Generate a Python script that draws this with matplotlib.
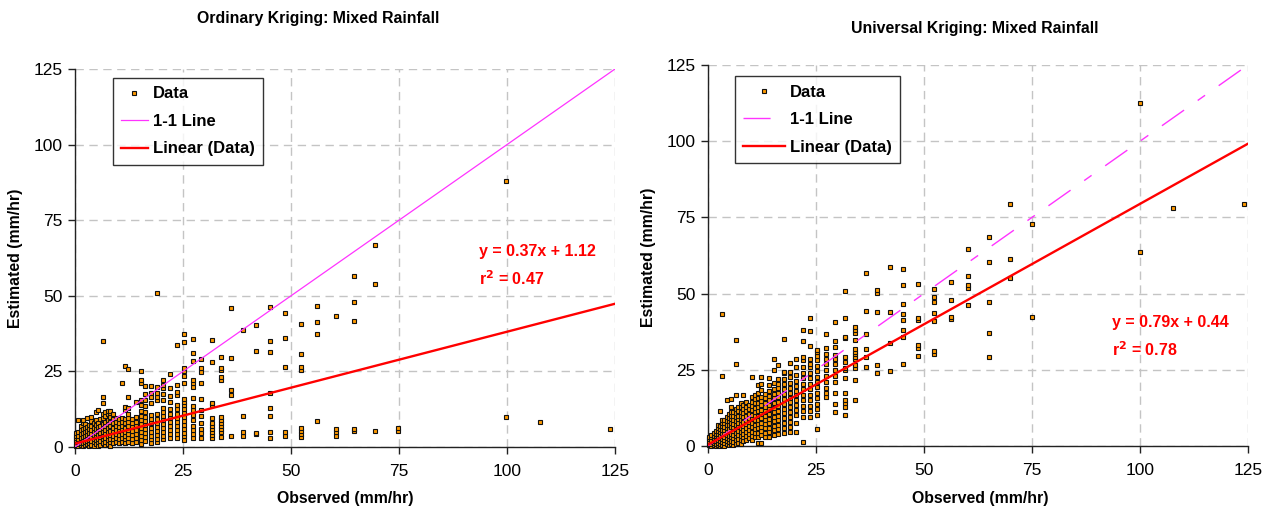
import matplotlib
matplotlib.use('Agg')
import matplotlib.pyplot as plt

plt.rcParams['font.family'] = ['Liberation Sans', 'DejaVu Sans']

# Ordinary kriging: observed column values and estimated values in each column
ok_obs = [0.3, 0.8, 1.3, 1.8, 2.3, 2.8, 3.3, 3.8, 4.3, 4.8, 5.3, 5.8, 6.4, 7.0, 7.6,
          8.2, 8.9, 9.5, 10.2, 10.9, 11.5, 12.3, 13.2, 14.1, 15.2, 16.3, 17.6, 18.9,
          20.3, 21.9, 23.5, 25.3, 27.4, 29.2, 31.6, 33.9, 36.2, 39.0, 42.0, 45.1,
          48.5, 52.2, 56.0, 60.4, 64.6, 69.5, 74.8, 99.8, 107.6, 123.9]
ok_est = [
    [0.3, 0.8, 1.5, 2.2, 3.0, 3.8, 4.5],
    [0.2, 1.0, 1.8, 2.6, 3.5, 5.0, 8.9],
    [0.5, 1.2, 2.0, 3.0, 4.2, 5.5, 7.0],
    [0.3, 1.4, 2.4, 3.4, 4.6, 6.0, 8.0, 8.9],
    [0.6, 1.5, 2.5, 3.6, 4.8, 6.2, 7.5],
    [1.0, 2.0, 3.0, 4.0, 5.2, 6.5, 9.5],
    [0.2, 1.2, 2.4, 3.5, 4.6, 5.8, 7.2],
    [0.8, 2.0, 3.2, 4.4, 5.6, 7.0, 8.5, 10.0],
    [0.4, 1.6, 2.8, 4.0, 5.2, 6.4, 7.8],
    [1.0, 2.2, 3.4, 4.6, 5.8, 7.2, 9.0, 11.7],
    [0.3, 1.5, 2.8, 4.0, 5.3, 6.6, 8.0, 12.2],
    [0.8, 2.0, 3.2, 4.5, 5.8, 7.0, 9.2],
    [1.2, 2.5, 3.8, 5.0, 6.3, 7.6, 9.5, 11.0, 14.6, 16.4, 35.2],
    [0.6, 1.8, 3.0, 4.3, 5.6, 7.0, 8.4, 10.4, 11.5],
    [1.0, 2.3, 3.6, 4.9, 6.2, 7.5, 9.0, 10.8, 12.0],
    [0.2, 1.5, 2.8, 4.1, 5.4, 6.8, 8.2, 9.8, 11.2, 12.0],
    [1.2, 2.5, 3.8, 5.1, 6.4, 7.8, 9.3, 11.0],
    [1.6, 2.9, 4.2, 5.5, 6.8, 8.2, 9.6],
    [1.3, 2.6, 3.9, 5.2, 6.5, 7.9, 9.4],
    [1.8, 3.1, 4.4, 5.7, 7.0, 8.4, 9.5, 21.3],
    [1.2, 2.5, 3.8, 5.1, 6.4, 7.8, 9.2, 12.3, 13.2, 26.9],
    [1.6, 2.9, 4.2, 5.5, 6.8, 8.2, 9.6, 11.0, 13.0, 16.4, 25.9],
    [1.3, 2.6, 3.9, 5.2, 6.5, 7.9, 9.3],
    [1.8, 3.1, 4.4, 5.7, 7.0, 8.4, 10.0, 15.0],
    [1.0, 2.3, 3.6, 4.9, 6.2, 7.5, 8.9, 10.3, 12.0, 14.0, 15.6, 21.0, 22.2, 25.2],
    [2.0, 3.3, 4.6, 5.9, 7.2, 8.6, 10.0, 11.5, 13.5, 15.5, 17.5, 20.3],
    [1.2, 2.5, 3.8, 5.1, 6.4, 7.8, 9.2, 10.6, 14.5, 16.5, 18.0, 20.3],
    [1.5, 2.8, 4.1, 5.4, 6.7, 8.0, 9.4, 11.0, 15.5, 16.5, 18.0, 20.0, 51.0],
    [2.5, 3.8, 5.1, 6.4, 7.7, 9.0, 10.3, 11.6, 13.0, 15.5, 17.5, 19.5, 20.5, 22.2],
    [3.0, 4.3, 5.6, 6.9, 8.2, 9.5, 11.0, 12.5, 15.0, 16.9, 19.4, 24.1],
    [3.0, 4.3, 5.6, 6.9, 8.2, 9.5, 10.8, 12.5, 14.0, 17.2, 18.3, 20.5, 33.7],
    [2.3, 3.5, 4.7, 6.0, 7.3, 8.6, 9.9, 11.2, 12.5, 13.8, 15.0, 16.0, 21.0, 23.4,
     25.0, 26.0, 34.8, 37.3],
    [3.0, 4.2, 5.5, 7.0, 9.0, 10.5, 12.3, 13.4, 16.1, 20.0, 21.0, 22.0, 28.4, 31.0, 35.8],
    [3.0, 4.5, 6.0, 7.8, 10.1, 12.3, 16.0, 21.0, 24.9, 26.0, 29.0],
    [3.0, 4.0, 5.0, 6.0, 7.0, 8.0, 9.5, 14.0, 14.5, 28.0, 35.4],
    [3.4, 5.0, 6.0, 7.0, 8.0, 9.0, 10.0, 22.2, 23.3, 25.5, 26.0, 29.6],
    [3.7, 17.2, 18.8, 29.3, 46.1],
    [3.6, 5.0, 10.4, 38.7],
    [4.2, 4.6, 31.8, 40.3],
    [3.1, 5.0, 10.4, 12.8, 17.8, 31.4, 35.1, 46.4],
    [3.5, 4.8, 26.3, 36.2, 44.3],
    [3.2, 4.2, 5.3, 6.3, 25.3, 26.6, 30.6, 40.8],
    [8.6, 37.3, 41.2, 46.5],
    [3.8, 4.8, 5.8, 43.3],
    [5.2, 6.0, 41.8, 47.9, 56.7],
    [5.3, 54.0, 66.9],
    [5.4, 6.3],
    [9.8, 88.0],
    [8.4],
    [6.1],
]

# Universal kriging
uk_obs = [0.3, 0.8, 1.3, 1.8, 2.3, 2.8, 3.3, 3.8, 4.3, 4.8, 5.3, 5.8, 6.4, 7.0, 7.6,
          8.2, 8.9, 9.5, 10.2, 10.9, 11.5, 12.3, 13.2, 14.1, 15.2, 16.3, 17.6, 18.9,
          20.3, 21.9, 23.5, 25.3, 27.4, 29.3, 31.6, 34.0, 36.6, 39.1, 42.1, 45.2,
          48.7, 52.4, 56.2, 60.3, 65.0, 69.8, 75.0, 100.0, 107.6, 124.0]
uk_est = [
    [0.2, 0.8, 1.5, 2.2, 3.0],
    [0.0, 0.6, 1.3, 2.0, 2.8, 3.6],
    [0.2, 0.9, 1.7, 2.5, 3.4, 4.3],
    [0.0, 0.7, 1.5, 2.3, 3.2, 4.1, 5.0],
    [0.3, 1.1, 2.0, 2.9, 3.8, 4.8, 5.8, 6.9],
    [0.0, 0.8, 1.7, 2.6, 3.6, 4.6, 5.6, 6.7, 11.5],
    [0.4, 1.3, 2.3, 3.3, 4.3, 5.4, 6.5, 7.6, 8.5, 23.1, 43.2],
    [0.0, 1.0, 2.0, 3.0, 4.1, 5.2, 6.3, 7.4, 8.6],
    [0.5, 1.5, 2.6, 3.7, 4.8, 5.9, 7.0, 8.2, 9.4, 15.2],
    [0.2, 1.2, 2.3, 3.4, 4.5, 5.7, 6.9, 8.1, 9.3, 10.5],
    [0.6, 1.7, 2.8, 3.9, 5.1, 6.3, 7.5, 8.7, 9.9, 11.2, 12.9, 15.5],
    [0.3, 1.4, 2.5, 3.7, 4.9, 6.1, 7.3, 8.5, 9.8, 11.0],
    [0.8, 2.0, 3.2, 4.4, 5.6, 6.9, 8.2, 9.5, 10.8, 12.0, 16.7, 26.9, 34.8],
    [1.0, 2.2, 3.5, 4.8, 6.1, 7.4, 8.7, 10.0, 11.4, 12.8],
    [0.6, 1.9, 3.2, 4.5, 5.8, 7.1, 8.5, 9.9, 11.3, 12.7, 14.0],
    [1.5, 2.8, 4.1, 5.4, 6.7, 8.0, 9.4, 10.8, 12.2, 13.6, 16.7],
    [2.0, 3.3, 4.6, 5.9, 7.2, 8.6, 10.0, 11.4, 12.8, 14.5],
    [2.5, 3.8, 5.1, 6.4, 7.8, 9.2, 10.6, 12.0, 13.4],
    [2.0, 3.3, 4.7, 6.1, 7.5, 8.9, 10.3, 11.7, 13.1, 14.5, 16.2, 22.7],
    [2.8, 4.2, 5.6, 7.0, 8.4, 9.8, 11.2, 12.6, 14.0, 15.4, 16.8],
    [1.1, 3.0, 4.4, 5.8, 7.2, 8.6, 10.0, 11.4, 12.8, 14.2, 15.6, 17.5, 20.0],
    [1.1, 3.5, 4.9, 6.3, 7.7, 9.1, 10.5, 11.9, 13.3, 14.7, 16.1, 18.5, 20.5, 22.7],
    [3.0, 4.4, 5.8, 7.2, 8.6, 10.0, 11.4, 12.8, 14.2, 15.6, 17.0],
    [3.0, 4.5, 6.0, 7.5, 9.0, 10.5, 12.0, 13.5, 15.0, 16.5, 18.0, 20.0, 22.2],
    [3.6, 5.1, 6.6, 8.1, 9.6, 11.1, 12.6, 14.1, 15.6, 17.1, 18.6, 20.6, 24.9, 28.4],
    [4.0, 5.5, 7.0, 8.5, 10.0, 11.5, 13.0, 14.5, 16.0, 17.5, 19.0, 20.5, 22.0, 26.6],
    [4.3, 5.9, 7.5, 9.1, 10.7, 12.3, 13.9, 15.5, 17.1, 18.7, 20.3, 21.9, 23.9, 24.4, 35.0],
    [4.7, 6.3, 7.9, 9.5, 11.1, 12.7, 14.3, 15.9, 17.5, 19.1, 20.7, 22.7, 24.4, 27.3],
    [4.7, 7.4, 10.2, 11.8, 13.4, 15.0, 16.6, 18.2, 19.8, 21.4, 23.3, 26.0, 28.5],
    [1.4, 9.6, 11.4, 13.2, 15.0, 16.8, 18.6, 20.4, 22.2, 24.0, 25.8, 28.2, 29.3, 34.6, 38.0],
    [9.6, 11.4, 13.2, 15.0, 16.8, 18.6, 20.4, 22.2, 24.0, 25.8, 27.0, 28.4, 32.9, 37.8, 42.1],
    [5.5, 10.2, 12.0, 13.8, 15.6, 17.4, 19.2, 21.0, 22.8, 24.6, 26.4, 28.2, 29.6, 30.9, 31.5],
    [16.2, 17.5, 19.0, 21.0, 23.0, 25.0, 27.0, 28.5, 30.2, 32.0, 36.7],
    [11.3, 13.8, 17.4, 21.0, 23.0, 25.0, 27.0, 28.5, 30.0, 32.4, 34.6, 40.6],
    [10.1, 12.9, 14.2, 15.1, 17.4, 22.3, 24.9, 25.6, 27.6, 29.3, 35.4, 35.7, 42.0, 51.0],
    [15.2, 21.8, 25.6, 26.5, 28.5, 29.3, 30.1, 30.9, 31.8, 34.7, 37.2, 38.1, 38.9],
    [25.8, 29.3, 31.8, 36.7, 44.4, 56.9],
    [24.1, 26.6, 43.9, 50.3, 51.2],
    [24.7, 33.9, 44.1, 58.6],
    [26.8, 35.9, 38.1, 41.3, 43.4, 46.6, 52.9, 58.0],
    [29.6, 32.2, 33.0, 41.3, 42.1, 53.3],
    [30.1, 31.2, 41.0, 43.7, 47.2, 48.8, 51.5],
    [41.8, 42.4, 48.0, 53.9],
    [46.3, 51.9, 52.9, 55.8, 64.6],
    [29.3, 37.2, 47.2, 60.4, 68.5],
    [55.2, 61.5, 79.5],
    [42.4, 72.8],
    [63.5, 112.5],
    [78.0],
    [79.5],
]

# trendline coefficients as printed on the chart
ok_fit = (0.37, 1.12, '0.47')
uk_fit = (0.79, 0.44, '0.78')

ticks = [0, 25, 50, 75, 100, 125]
line_x = [0, 125]

W, H = 1269, 513
fig = plt.figure(figsize=(W / 100, H / 100), dpi=100)

panels = [
    dict(rect=(75, 69, 615, 447), obs=ok_obs, est=ok_est, fit=ok_fit, dashed=False,
         title='Ordinary Kriging: Mixed Rainfall', title_xy=(318, 18),
         xlabel_xy=(345, 498), ylabel_xy=(16, 258), leg=(0.070, 0.976), hl=1.6,
         eq_xy=(93.5, 64.5)),
    dict(rect=(708, 65, 1248, 446), obs=uk_obs, est=uk_est, fit=uk_fit, dashed=True,
         title='Universal Kriging: Mixed Rainfall', title_xy=(975, 29),
         xlabel_xy=(980, 498), ylabel_xy=(648, 257), leg=(0.050, 0.970), hl=2.5,
         eq_xy=(93.5, 40.4)),
]

for p in panels:
    x0, y0, x1, y1 = p['rect']
    ax = fig.add_axes([x0 / W, 1 - y1 / H, (x1 - x0) / W, (y1 - y0) / H])

    xs = [x for x, col in zip(p['obs'], p['est']) for _ in col]
    ys = [y for col in p['est'] for y in col]
    ax.plot(xs, ys, ls='none', marker='s', ms=3.3, mfc='#FF9900', mec='#111111',
            mew=0.8, label='Data', zorder=3, clip_on=False)

    if p['dashed']:
        ax.plot(line_x, line_x, color='#FF33FF', lw=1.0, dashes=(19.5, 12, 6.5, 12),
                label='1-1 Line', zorder=4)
    else:
        ax.plot(line_x, line_x, color='#FF33FF', lw=0.9, label='1-1 Line', zorder=4)

    slope, icpt, r2 = p['fit']
    ax.plot(line_x, [slope * v + icpt for v in line_x], color='#FF0000', lw=1.7,
            label='Linear (Data)', zorder=5)

    ax.set_xlim(0, 125)
    ax.set_ylim(0, 125)
    ax.set_xticks(ticks)
    ax.set_yticks(ticks)
    ax.grid(True, color='#c4c4c4', lw=1.0, ls=(0, (6, 4)))
    ax.set_axisbelow(True)
    for s in ['top', 'right']:
        ax.spines[s].set_visible(False)
    for s in ['left', 'bottom']:
        ax.spines[s].set_color('#222222')
        ax.spines[s].set_linewidth(1.0)
    ax.tick_params(axis='both', direction='out', length=5, width=1, color='#222222',
                   labelsize=12.5)
    ax.tick_params(axis='x', pad=7)
    ax.tick_params(axis='y', pad=4)

    leg = ax.legend(loc='upper left', bbox_to_anchor=p['leg'], borderaxespad=0,
                    numpoints=1, handlelength=p['hl'], handletextpad=0.3,
                    labelspacing=0.75, borderpad=0.5, fancybox=False,
                    prop=dict(weight='bold', size=12), markerscale=1.0)
    leg.get_frame().set_edgecolor('black')
    leg.get_frame().set_linewidth(1.0)
    leg.set_zorder(10)

    ex, ey = p['eq_xy']
    ax.text(ex, ey, f'y = {slope:.2f}x + {icpt:.2f}', color='red', fontsize=11.5,
            fontweight='bold', va='center', ha='left')
    ax.text(ex, ey - 8.7, f'r$^\\mathbf{{2}}$ = {r2}', color='red', fontsize=11.5,
            fontweight='bold', va='center', ha='left')

    tx, ty = p['title_xy']
    fig.text(tx / W, 1 - ty / H, p['title'], ha='center', va='center',
             fontsize=11.4, fontweight='bold')
    lx, ly = p['xlabel_xy']
    fig.text(lx / W, 1 - ly / H, 'Observed (mm/hr)', ha='center', va='center',
             fontsize=11.4, fontweight='bold')
    yx, yy = p['ylabel_xy']
    fig.text(yx / W, 1 - yy / H, 'Estimated (mm/hr)', ha='center', va='center',
             rotation=90, fontsize=11.4, fontweight='bold')

fig.savefig('out.png', dpi=100)
